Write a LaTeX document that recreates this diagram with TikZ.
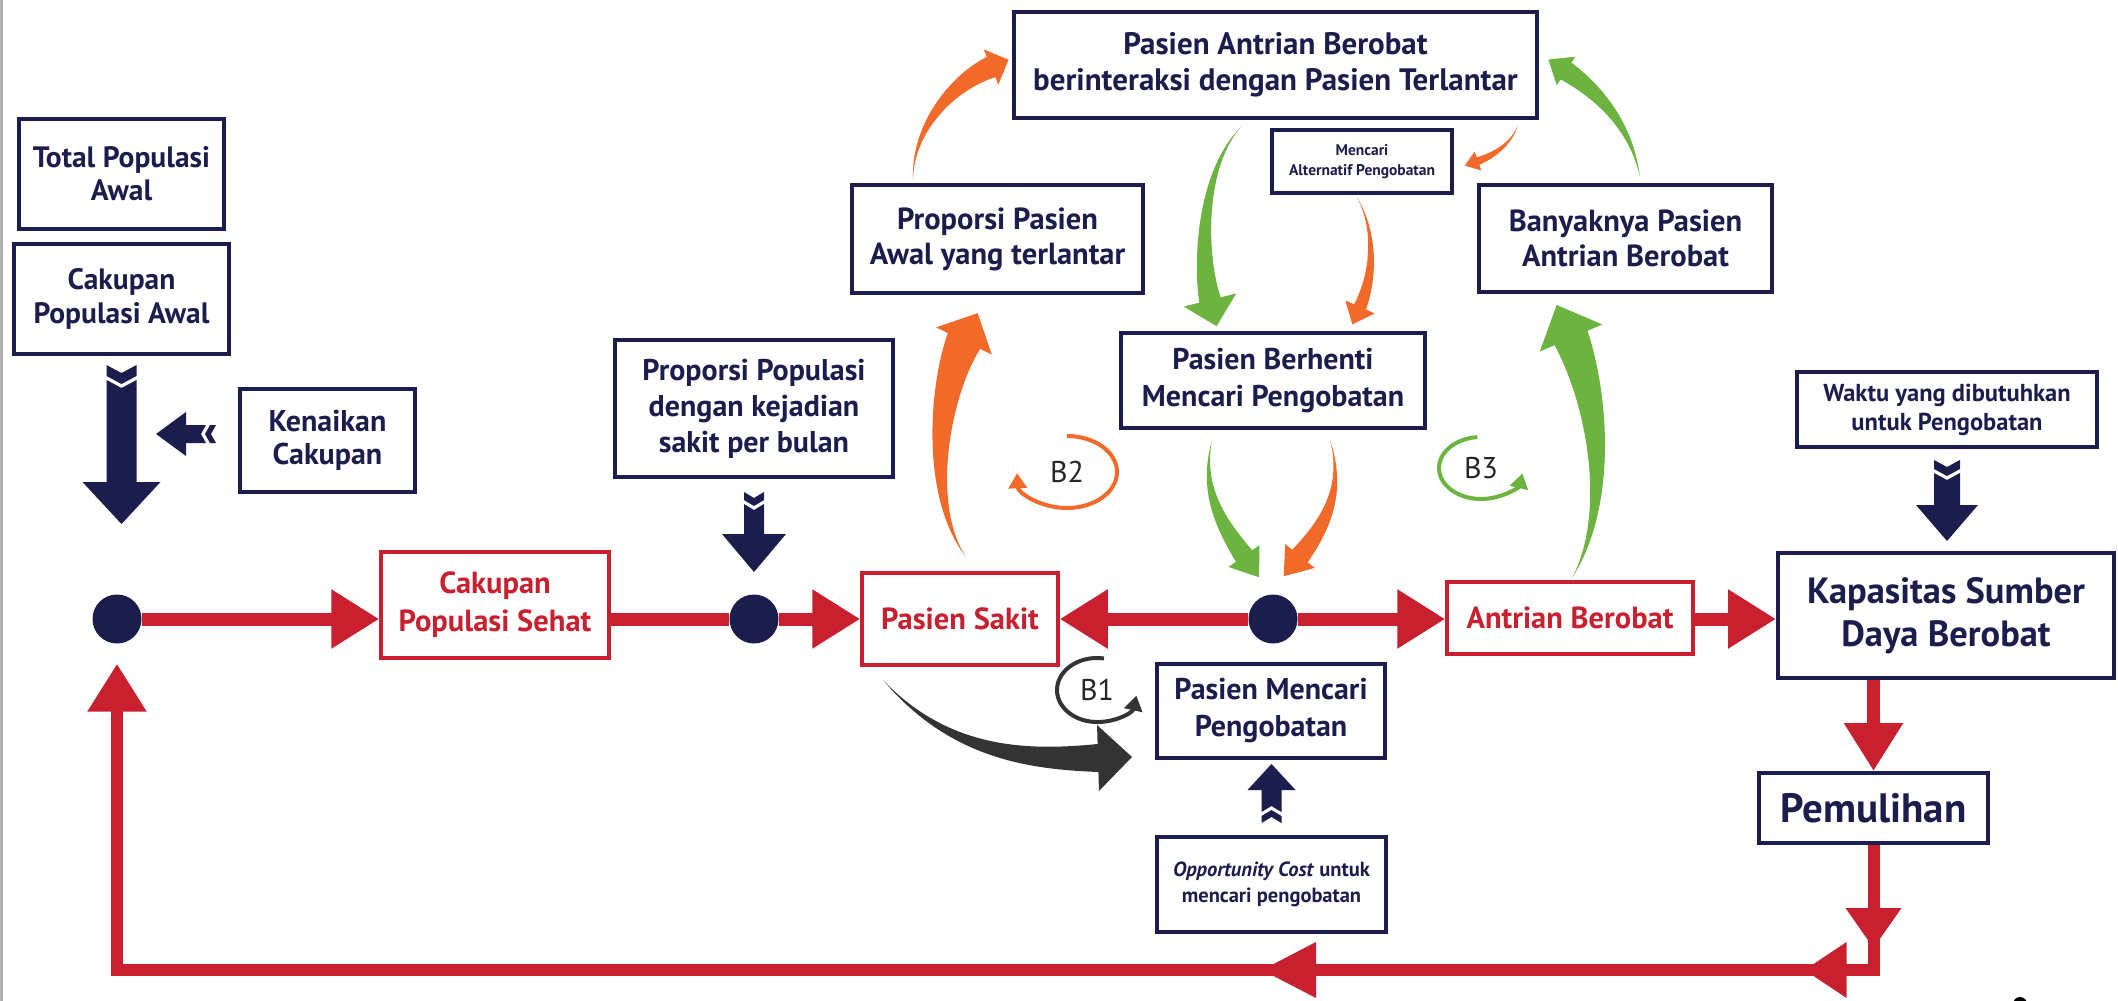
\documentclass[tikz,border=0pt]{standalone}
\usepackage{fontspec}
\setmainfont{PT Sans}
\usetikzlibrary{arrows.meta,calc}
\definecolor{navy}{HTML}{1B1E4D}
\definecolor{fred}{HTML}{C8202F}
\definecolor{forange}{HTML}{F26A2A}
\definecolor{fgreen}{HTML}{6CB33F}
\definecolor{fdark}{HTML}{333333}
\newcommand{\fsz}[2]{\fontsize{#1}{#2}\selectfont}
% tapered curved arrow: colour, start, control1, control2, head-base centre, body width, head half width, head length
\newcommand{\taper}[8]{%
  \fill[#1] let \p1=(#5), \p2=(#4), \n1={atan2(\y1-\y2,\x1-\x2)} in
  (#2) .. controls ($(#3)+(\n1+90:#6pt/6)$) and ($(#4)+(\n1+90:#6pt/3)$) .. ($(#5)+(\n1+90:#6pt/2)$)
  -- ($(#5)+(\n1+90:#7pt)$) -- ($(#5)+(\n1:#8pt)$) -- ($(#5)+(\n1-90:#7pt)$) -- ($(#5)+(\n1-90:#6pt/2)$)
  .. controls ($(#4)+(\n1-90:#6pt/3)$) and ($(#3)+(\n1-90:#6pt/6)$) .. (#2) -- cycle;}
% fletched block arrow: tail, axis vector, normal vector, length, head length, head half width, shaft half width, notch, chevron
\newcommand{\fletch}[9]{%
  \begin{scope}[shift={#1}, x={#2}, y={#3}]
  \fill[navy] (0,-#7) -- (#8,0) -- (0,#7) -- (#9,#7) -- ({#9+#8},0) -- (#9,-#7) -- cycle;
  \fill[navy] ({#9+4},-#7) -- ({#9+4+#8},0) -- ({#9+4},#7) -- ({#4-#5},#7) -- ({#4-#5},#6) -- (#4,0)
     -- ({#4-#5},-#6) -- ({#4-#5},-#7) -- cycle;
  \end{scope}}
\begin{document}
\begin{tikzpicture}[x=1pt,y=-1pt,
  nbox/.style={draw=navy, line width=4pt, fill=white, text=navy, align=center, inner sep=0pt},
  rbox/.style={draw=fred, line width=3.5pt, fill=white, text=fred, align=center, inner sep=0pt},
  dot/.style={circle, fill=navy, minimum size=49pt, inner sep=0pt},
  flow/.style={draw=fred, line width=13pt, -{Triangle[length=48pt,width=56pt]}},
  flowline/.style={draw=fred, line width=13pt},
  looplbl/.style={font=\fsz{30}{34}, text=black!85, inner sep=0pt},
  loopar/.style={line width=4pt, -{Triangle[length=15pt,width=18pt]}}
]
\useasboundingbox (0,0) rectangle (2118,1001);
\fill[white] (0,0) rectangle (2118,1001);
\draw[gray!60, line width=3pt] (1.5,0) -- (1.5,1001);
\fill[black] (2020,1004) circle (7pt);

% boxes
\node[nbox, minimum width=205pt, minimum height=110pt, font=\bfseries\fsz{29.5}{33}] (tot) at (121.5,174) {Total Populasi\\Awal};
\node[nbox, minimum width=215pt, minimum height=110pt, font=\bfseries\fsz{29.5}{34}] (cakaw) at (121.5,299) {Cakupan\\Populasi Awal};
\node[nbox, minimum width=175pt, minimum height=103pt, font=\bfseries\fsz{30}{33}] (kenaikan) at (327.5,440.5) {Kenaikan\\Cakupan};
\node[nbox, minimum width=278pt, minimum height=137pt, font=\bfseries\fsz{30}{36}] (proppop) at (754,408.5) {Proporsi Populasi\\dengan kejadian\\sakit per bulan};
\node[rbox, minimum width=228pt, minimum height=106pt, font=\bfseries\fsz{30.5}{38}] (sehat) at (495,605) {Cakupan\\Populasi Sehat};
\node[rbox, minimum width=196pt, minimum height=92pt, font=\bfseries\fsz{30.5}{34}] (sakit) at (960,619) {Pasien Sakit};
\node[nbox, minimum width=291pt, minimum height=108pt, font=\bfseries\fsz{30.5}{35}] (proppas) at (997.5,239) {Proporsi Pasien\\Awal yang terlantar};
\node[nbox, minimum width=523pt, minimum height=106pt, font=\bfseries\fsz{31}{36}] (pab) at (1275.5,65) {Pasien Antrian Berobat\\berinteraksi dengan Pasien Terlantar};
\node[nbox, line width=3.5pt, minimum width=180pt, minimum height=63pt, font=\bfseries\fsz{15.5}{20}] (alt) at (1362,161.5) {Mencari\\Alternatif Pengobatan};
\node[nbox, minimum width=293pt, minimum height=107pt, font=\bfseries\fsz{30.5}{35}] (banyak) at (1625.5,238.5) {Banyaknya Pasien\\Antrian Berobat};
\node[nbox, minimum width=304pt, minimum height=95pt, font=\bfseries\fsz{30}{37}] (berhenti) at (1273,380.5) {Pasien Berhenti\\Mencari Pengobatan};
\node[nbox, minimum width=228pt, minimum height=94pt, font=\bfseries\fsz{30}{37}] (mencari) at (1271,711) {Pasien Mencari\\Pengobatan};
\node[nbox, minimum width=229pt, minimum height=95pt, font=\bfseries\fsz{20.5}{26}] (opp) at (1271.5,884.5) {\textit{Opportunity Cost} untuk\\mencari pengobatan};
\node[rbox, minimum width=246pt, minimum height=72pt, font=\bfseries\fsz{30.5}{34}] (antrian) at (1570,618) {Antrian Berobat};
\node[nbox, minimum width=300pt, minimum height=75pt, font=\bfseries\fsz{24.5}{29}] (waktu) at (1947,409.5) {Waktu yang dibutuhkan\\untuk Pengobatan};
\node[nbox, minimum width=336pt, minimum height=125pt, font=\bfseries\fsz{36.5}{43}] (kap) at (1946,615.5) {Kapasitas Sumber\\Daya Berobat};
\node[nbox, minimum width=229pt, minimum height=70pt, font=\bfseries\fsz{41}{44}] (pem) at (1873.5,808) {Pemulihan};

% dots
\node[dot] (dot1) at (117,619) {};
\node[dot] (dot2) at (754,619) {};
\node[dot] (dot3) at (1273,619) {};
\coordinate (c1) at (pem.south |- 0,970);
\coordinate (c2) at (dot1 |- c1);

% red flows
\draw[flow] (dot1) -- (dot1 -| sehat.west);
\draw[flowline] (sehat.east |- dot2) -- (dot2);
\draw[flow] (dot2) -- (sakit.west);
\draw[flow] (dot3) -- (sakit.east);
\draw[flow] (dot3) -- (antrian.west |- dot3);
\draw[flow] (antrian.east |- dot3) -- (kap.west |- dot3);
\draw[flow] (kap.south -| pem.north) -- (pem.north);
\draw[flow, line width=12pt, shorten >=20pt] (pem.south) -- (c1) -- (c2) -- (dot1);
\fill[fred] ($(c1)+(0,-22)$) -- ($(c1)+(-28,-62)$) -- ($(c1)+(28,-62)$) -- cycle;
\fill[fred] ($(c1)+(-69,0)$) -- ($(c1)+(-27,-28)$) -- ($(c1)+(-27,28)$) -- cycle;
\fill[fred] (1262,970) -- (1316,942) -- (1316,998) -- cycle;

% navy block arrows
\fletch{($(cakaw.south)+(0,9)$)}{(0pt,-1pt)}{(1pt,0pt)}{159}{42}{39}{15}{8}{11}
\fletch{($(kenaikan.west)+(-22,-6.5)$)}{(-1pt,0pt)}{(0pt,1pt)}{60}{30}{22}{9}{5}{6}
\fletch{($(proppop.south)+(0,13)$)}{(0pt,-1pt)}{(1pt,0pt)}{80}{38}{32}{10}{6}{8}
\fletch{($(waktu.south)+(0,11)$)}{(0pt,-1pt)}{(1pt,0pt)}{81}{36}{31}{13}{7}{9}
\fletch{($(opp.north)+(0,-12)$)}{(0pt,1pt)}{(1pt,0pt)}{59}{26}{24}{10}{6}{7}

% curved tapered arrows
\taper{forange}{966,557}{925,500}{940,390}{964,341}{36}{31}{31}
\taper{forange}{913,180}{912,130}{950,84}{991,67}{22}{19}{19}
\taper{fgreen}{1241,127}{1200,170}{1200,260}{1210,300}{22}{27}{27}
\taper{forange}{1357,197}{1378,235}{1372,280}{1360,307}{13}{16}{19}
\taper{forange}{1518,125}{1512,143}{1495,155}{1478,161}{8}{10}{14}
\taper{fgreen}{1640,177}{1632,130}{1603,95}{1566,71}{20}{17}{21}
\taper{fgreen}{1212,440}{1200,490}{1222,525}{1244,556}{20}{19}{26}
\taper{forange}{1330,440}{1345,490}{1325,525}{1300,556}{20}{19}{26}
\taper{fgreen}{1572,578}{1612,510}{1598,400}{1571,338}{36}{34}{36}
\taper{fdark}{883,680}{950,755}{1030,760}{1098,758}{28}{33}{34}

% loop labels
\node[looplbl] (b1) at (1097,690) {B1};
\node[looplbl] (b2) at (1067,472) {B2};
\node[looplbl] (b3) at (1481,468) {B3};
\draw[loopar, fdark] ($(b1)+(80:40pt and 32pt)$) arc[start angle=80, end angle=350, x radius=40pt, y radius=32pt];
\draw[loopar, forange] ($(b2)+(90:50pt and 36pt)$) arc[start angle=90, end angle=-178, x radius=50pt, y radius=36pt];
\draw[loopar, fgreen] ($(b3)+(95:42pt and 31pt)$) arc[start angle=95, end angle=350, x radius=42pt, y radius=31pt];
\end{tikzpicture}
\end{document}
